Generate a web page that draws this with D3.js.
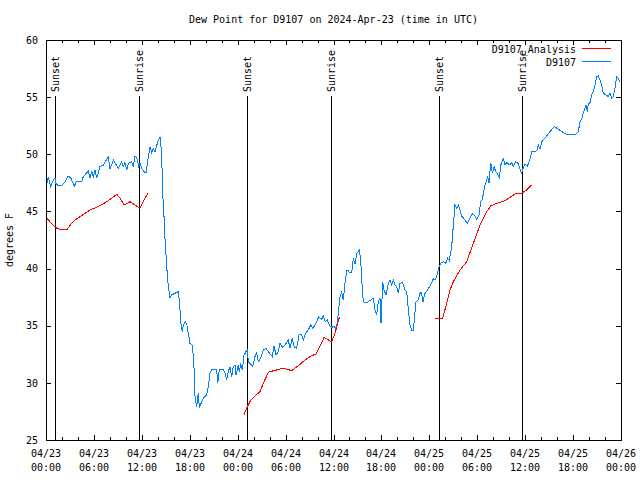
<!DOCTYPE html>
<html><head><meta charset="utf-8">
<script src="https://cdn.jsdelivr.net/npm/d3@7"></script>
<style>
body{margin:0;background:#fff}
svg{display:block}
text{font-family:"DejaVu Sans Mono","Liberation Mono",monospace;font-size:10px;fill:#000}
</style></head>
<body><svg id="c" width="640" height="480"></svg>
<script>
// ---- data (hours since 2024-04-23 00:00 UTC, degrees F) ----
const titleText = "Dew Point for D9107 on 2024-Apr-23 (time in UTC)";
const yLabel = "degrees F";
const seriesNames = ["D9107_Analysis", "D9107"];
const yTicks = [25, 30, 35, 40, 45, 50, 55, 60];
const sunsetHours = [1.13, 25.17, 49.21];
const sunriseHours = [11.65, 35.69, 59.60];

const observed = [[0.13,47.5],[0.29,48.0],[0.59,47.17],[0.91,47.75],[1.13,47.95],[1.25,47.46],[1.54,47.23],[1.97,47.31],[2.38,47.6],[2.79,48.1],[3.13,47.9],[3.54,47.17],[3.76,47.6],[4.47,47.6],[4.67,48.04],[5.30,48.54],[5.51,47.9],[5.72,48.57],[5.92,48.04],[6.14,48.6],[6.35,47.9],[6.76,48.92],[7.18,49.06],[7.39,49.35],[7.80,49.74],[8.01,48.69],[8.43,49.5],[9.05,48.77],[9.48,49.35],[9.68,48.92],[9.89,49.27],[10.11,48.63],[10.31,49.2],[10.73,49.35],[10.93,48.92],[11.14,49.8],[11.36,49.74],[11.61,48.92],[11.77,49.2],[11.98,48.77],[12.18,48.57],[12.52,48.34],[12.69,49.2],[13.02,50.66],[13.24,50.14],[13.44,50.52],[13.65,50.23],[14.06,51.25],[14.28,51.49],[14.49,50.08],[14.56,47.6],[14.69,45.4],[14.81,44.25],[14.90,42.65],[15.03,41.19],[15.11,40.17],[15.24,39.15],[15.31,38.42],[15.44,37.84],[15.53,37.4],[15.74,37.69],[16.15,37.84],[16.57,37.98],[16.69,37.25],[16.78,36.38],[16.90,35.2],[17.07,34.48],[17.19,35.06],[17.41,35.35],[17.62,35.2],[17.74,34.63],[17.91,34.04],[18.03,33.46],[18.32,33.3],[18.45,32.3],[18.57,30.84],[18.66,28.8],[18.87,27.9],[19.07,29.1],[19.20,27.9],[19.41,28.2],[19.70,28.65],[19.91,28.8],[20.12,28.95],[20.32,29.67],[20.54,30.84],[20.75,31.13],[21.38,31.13],[21.50,29.97],[21.70,31.13],[22.20,31.13],[22.41,30.84],[22.63,30.25],[22.83,30.98],[23.04,31.42],[23.25,30.54],[23.45,31.42],[23.67,31.56],[23.79,30.69],[24.08,31.56],[24.21,30.98],[24.38,31.71],[24.58,31.13],[24.79,32.4],[25.04,32.73],[25.21,32.88],[25.33,31.86],[25.54,31.7],[25.88,31.42],[26.17,32.3],[26.38,32.6],[26.58,31.86],[26.88,32.15],[27.21,32.88],[27.55,33.03],[27.84,32.73],[28.34,32.3],[28.55,33.23],[28.80,32.44],[29.09,32.73],[29.30,33.46],[29.64,33.1],[29.93,33.3],[30.34,33.75],[30.55,33.03],[30.84,33.9],[31.09,33.1],[31.39,33.03],[31.68,34.19],[32.02,34.19],[32.22,33.75],[32.52,34.34],[32.84,34.63],[33.15,35.06],[33.40,34.78],[33.56,34.92],[33.90,35.35],[34.15,35.79],[34.52,35.56],[34.72,35.85],[34.97,35.35],[35.22,35.5],[35.47,35.06],[35.77,34.86],[36.10,34.95],[36.31,34.69],[36.48,35.3],[36.63,36.3],[36.81,37.5],[37.02,37.9],[37.23,37.25],[37.44,38.71],[37.65,39.8],[37.85,39.8],[38.07,39.6],[38.28,39.65],[38.48,40.9],[38.69,40.4],[38.91,41.34],[39.11,41.48],[39.23,41.63],[39.41,40.75],[39.53,39.0],[39.73,37.1],[40.16,37.02],[40.57,37.2],[40.98,37.4],[41.20,36.38],[41.41,35.94],[41.61,37.1],[41.82,37.4],[41.95,35.2],[42.16,38.86],[42.32,38.13],[42.57,37.69],[42.86,38.71],[43.08,39.0],[43.29,38.57],[43.49,39.0],[43.70,38.57],[43.91,38.42],[44.11,37.84],[44.33,38.71],[44.66,38.77],[44.95,38.13],[45.17,37.98],[45.37,36.38],[45.58,35.06],[45.79,34.57],[45.99,34.57],[46.21,36.23],[46.33,37.1],[46.62,37.25],[46.83,37.84],[47.02,37.9],[47.21,37.1],[47.40,37.75],[47.85,38.2],[48.28,38.71],[48.48,39.1],[48.71,39.0],[48.92,39.3],[49.17,40.03],[49.40,40.46],[49.75,40.6],[50.05,40.46],[50.30,40.9],[50.50,40.7],[50.80,41.92],[51.01,43.82],[51.21,45.56],[51.43,45.27],[51.63,45.56],[51.84,45.13],[52.05,44.6],[52.47,44.25],[52.76,43.96],[53.09,44.4],[53.38,44.78],[53.63,44.69],[53.93,44.34],[54.22,44.69],[54.43,45.85],[54.63,46.06],[54.97,47.31],[55.31,48.04],[55.47,47.51],[55.69,49.27],[55.89,48.34],[56.10,48.92],[56.31,48.48],[56.51,48.34],[56.76,47.99],[56.97,49.1],[57.26,49.6],[57.48,49.06],[57.69,49.3],[58.01,49.06],[58.31,49.25],[58.53,48.95],[58.79,49.35],[59.10,49.21],[59.35,48.7],[59.56,48.34],[59.79,48.9],[59.98,49.1],[60.29,48.98],[60.61,49.6],[60.82,50.23],[61.23,50.23],[61.48,50.35],[61.65,50.81],[61.86,50.44],[62.07,51.1],[62.27,51.25],[62.70,51.6],[63.11,51.98],[63.45,52.27],[63.65,52.42],[64.15,52.19],[64.78,51.9],[65.40,51.69],[66.03,51.69],[66.37,51.78],[66.65,51.98],[66.87,52.85],[67.08,53.06],[67.28,53.59],[67.41,53.88],[67.62,54.31],[67.78,53.73],[67.91,54.46],[68.12,54.5],[68.33,55.2],[68.53,55.48],[68.75,56.06],[68.96,56.79],[69.16,56.85],[69.37,56.5],[69.58,56.06],[69.79,55.33],[70.12,55.19],[70.41,55.04],[70.62,55.33],[70.83,54.9],[71.03,55.04],[71.25,55.77],[71.46,56.79],[71.66,56.65],[71.87,56.35]];

const analysisRun1 = [[0.13,44.4],[0.75,43.9],[1.38,43.5],[2.00,43.4],[2.63,43.4],[3.13,43.9],[3.76,44.31],[4.26,44.54],[5.51,45.13],[6.55,45.42],[7.60,45.85],[8.23,46.15],[8.85,46.5],[9.27,46.15],[9.80,45.56],[10.52,45.85],[11.14,45.56],[11.77,45.27],[12.40,46.15],[12.81,46.65]];
const analysisRun2 = [[24.79,27.19],[25.13,27.78],[25.54,28.36],[25.96,28.73],[26.80,29.23],[27.21,29.97],[27.84,30.9],[28.05,30.98],[28.89,31.13],[29.72,31.28],[30.14,31.19],[30.77,31.07],[31.18,31.28],[31.81,31.62],[32.43,32.0],[33.06,32.3],[33.81,32.53],[34.31,33.23],[34.81,33.96],[35.22,33.81],[35.77,33.6],[36.10,34.19],[36.40,34.86],[36.73,35.74]];
const analysisRun3 = [[48.71,35.59],[49.67,35.65],[50.17,36.96],[50.59,38.13],[51.01,38.86],[51.84,39.88],[52.68,40.6],[53.51,42.21],[54.35,43.82],[55.18,44.98],[55.69,45.48],[56.44,45.71],[57.48,45.94],[58.10,46.24],[58.73,46.53],[59.56,46.59],[60.19,46.88],[60.82,47.31]];

// ---- drawing ----
const svg = d3.select("#c");
const L = 46, R = 621, T = 40, B = 440;
const t0 = Date.UTC(2024, 3, 23);
const H = 3600e3;
const toDate = h => new Date(t0 + h * H);
const x = d3.scaleUtc().domain([toDate(0), toDate(72)]).range([L, R]);
const y = d3.scaleLinear().domain([25, 60]).range([B, T]);
const blue = "#0080ff", red = "#ff0000";

svg.append("rect").attr("width",640).attr("height",480).attr("fill","#fff");

// title
svg.append("text").attr("x",(L+R)/2).attr("y",23).attr("text-anchor","middle").text(titleText);
// y label
svg.append("text").attr("transform","translate(13,240) rotate(-90)").attr("text-anchor","middle").text(yLabel);

// axes ticks
function clean(g){ g.select(".domain").remove(); g.selectAll("line").attr("stroke","#000").attr("shape-rendering","crispEdges"); }
const major = d3.utcHour.every(6), minor = d3.utcHour.every(2);
svg.append("g").attr("transform",`translate(0,${B})`).call(d3.axisBottom(x).ticks(minor).tickSize(-3).tickFormat("")).call(clean);
svg.append("g").attr("transform",`translate(0,${T})`).call(d3.axisTop(x).ticks(minor).tickSize(-3).tickFormat("")).call(clean);
svg.append("g").attr("transform",`translate(0,${B})`).call(d3.axisBottom(x).ticks(major).tickSize(-5).tickFormat("")).call(clean);
svg.append("g").attr("transform",`translate(0,${T})`).call(d3.axisTop(x).ticks(major).tickSize(-5).tickFormat("")).call(clean);
const ya = svg.append("g").attr("transform",`translate(${L},0)`).call(d3.axisLeft(y).tickValues(yTicks).tickSize(-5).tickPadding(8).tickFormat(d3.format("d"))).call(clean);
ya.selectAll("text").attr("font-family",null).attr("font-size",null).style("font-family",'"DejaVu Sans Mono",monospace').style("font-size","10px");
svg.append("g").attr("transform",`translate(${R},0)`).call(d3.axisRight(y).tickValues(yTicks).tickSize(-5).tickFormat("")).call(clean);

// x tick labels (two lines)
const fmtD = d3.utcFormat("%m/%d"), fmtT = d3.utcFormat("%H:%M");
const xl = svg.append("g").selectAll("text").data(x.ticks(major)).join("text")
  .attr("text-anchor","middle").attr("transform",d=>`translate(${Math.round(x(d))},0)`);
xl.append("tspan").attr("x",0).attr("y",457).text(fmtD);
xl.append("tspan").attr("x",0).attr("y",471).text(fmtT);

// border
svg.append("rect").attr("x",L+0.5).attr("y",T+0.5).attr("width",R-L).attr("height",B-T)
  .attr("fill","none").attr("stroke","#000").attr("shape-rendering","crispEdges");

// sunrise / sunset markers
const events = sunsetHours.map(h=>({h,label:"Sunset"})).concat(sunriseHours.map(h=>({h,label:"Sunrise"})));
const ev = svg.append("g").selectAll("g").data(events).join("g");
ev.append("line").attr("x1",d=>Math.round(x(toDate(d.h)))+0.5).attr("x2",d=>Math.round(x(toDate(d.h)))+0.5)
  .attr("y1",96).attr("y2",B).attr("stroke","#000").attr("shape-rendering","crispEdges");
ev.append("text").attr("transform",d=>`translate(${Math.round(x(toDate(d.h)))+4},92) rotate(-90)`).text(d=>d.label);

// series
const line = d3.line().x(d=>x(toDate(d[0]))).y(d=>y(d[1]));
svg.append("path").datum(observed).attr("d",line).attr("fill","none").attr("stroke",blue).attr("stroke-width",1).attr("shape-rendering","crispEdges");
[analysisRun1, analysisRun2, analysisRun3].forEach(run=>{
  svg.append("path").datum(run).attr("d",line).attr("fill","none").attr("stroke",red).attr("stroke-width",1).attr("shape-rendering","crispEdges");
});

// legend
const leg = svg.append("g");
[[seriesNames[0],red,50],[seriesNames[1],blue,63]].forEach(([name,col,yy])=>{
  leg.append("text").attr("x",576).attr("y",yy+3).attr("text-anchor","end").text(name);
  leg.append("line").attr("x1",582).attr("x2",611).attr("y1",yy-1.5).attr("y2",yy-1.5).attr("stroke",col).attr("shape-rendering","crispEdges");
});
</script></body></html>
